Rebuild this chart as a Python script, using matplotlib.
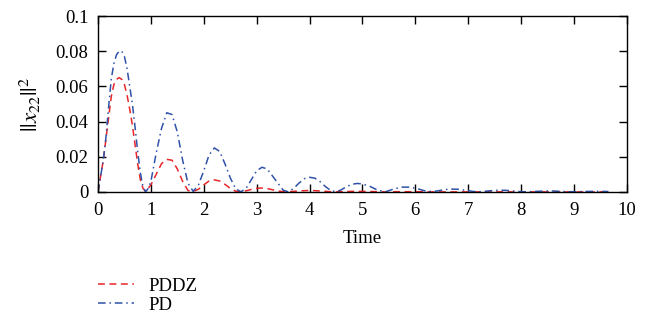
import numpy as np
import matplotlib
matplotlib.use("Agg")
from matplotlib import pyplot as plt

# sample times
time = [
    0.0, 0.05, 0.1, 0.15, 0.2, 0.25, 0.3, 0.35, 0.4, 0.45,
    0.5, 0.55, 0.6, 0.65, 0.7, 0.75, 0.8, 0.85, 0.9, 0.95, 1.0,
    1.1, 1.2, 1.3, 1.4, 1.5, 1.6, 1.7, 1.8, 1.9, 2.0,
    2.1, 2.2, 2.3, 2.4, 2.5, 2.6, 2.7, 2.8, 2.9, 3.0,
    3.1, 3.2, 3.3, 3.4, 3.5, 3.6, 3.7, 3.8, 3.9, 4.0,
    4.1, 4.2, 4.3, 4.4, 4.5, 4.6, 4.7, 4.8, 4.9, 5.0,
    5.15, 5.3, 5.45, 5.6, 5.75, 5.9, 6.05, 6.2, 6.35, 6.5,
    6.65, 6.8, 6.95, 7.1, 7.25, 7.4, 7.55, 7.7, 7.85, 8.0,
    8.15, 8.3, 8.45, 8.6, 8.75, 8.9, 9.05, 9.2, 9.35, 9.5, 9.65,
]

pddz = [
    0.0, 0.009, 0.018, 0.030, 0.042, 0.054, 0.061, 0.064, 0.065, 0.064,
    0.061, 0.055, 0.047, 0.038, 0.027, 0.016, 0.007, 0.002, 0.0003, 0.002, 0.004,
    0.010, 0.016, 0.0185, 0.018, 0.013, 0.006, 0.0008, 0.0003, 0.0015, 0.0040,
    0.0062, 0.0068, 0.0062, 0.0043, 0.0020, 0.0004, 0.0002, 0.0006, 0.0014, 0.0020,
    0.0022, 0.0019, 0.0012, 0.0005, 0.0001, 0.0001, 0.0003, 0.0005, 0.0007, 0.0008,
    0.0007, 0.0005, 0.0003, 0.0001, 0.0, 0.0001, 0.0002, 0.0003, 0.0003, 0.0003,
    0.0002, 0.0001, 0.0, 0.0001, 0.0001, 0.0001, 0.0001, 0.0, 0.0, 0.0,
    0.0, 0.0, 0.0, 0.0, 0.0, 0.0, 0.0, 0.0, 0.0, 0.0,
    0.0, 0.0, 0.0, 0.0, 0.0, 0.0, 0.0, 0.0, 0.0, 0.0, 0.0,
]

pd = [
    0.0, 0.009, 0.018, 0.031, 0.048, 0.064, 0.073, 0.078, 0.080, 0.080,
    0.077, 0.070, 0.060, 0.050, 0.037, 0.023, 0.011, 0.003, 0.0, 0.002, 0.006,
    0.022, 0.036, 0.045, 0.044, 0.034, 0.018, 0.005, 0.0003, 0.004, 0.012,
    0.021, 0.025, 0.023, 0.016, 0.008, 0.002, 0.0, 0.002, 0.007, 0.012,
    0.014, 0.013, 0.009, 0.005, 0.001, 0.0, 0.002, 0.005, 0.0075, 0.0083,
    0.0078, 0.0058, 0.003, 0.0008, 0.0, 0.0012, 0.003, 0.0043, 0.0048, 0.0045,
    0.0030, 0.0008, 0.0002, 0.0017, 0.0027, 0.0027, 0.0017, 0.0004, 0.0002, 0.0010,
    0.0016, 0.0015, 0.0009, 0.0002, 0.0001, 0.0006, 0.0009, 0.0009, 0.0005, 0.0001,
    0.0001, 0.0003, 0.0005, 0.0005, 0.0003, 0.0001, 0.0001, 0.0002, 0.0003, 0.0003, 0.0002,
]

xticks = [0, 1, 2, 3, 4, 5, 6, 7, 8, 9, 10]
yticks = [0, 0.02, 0.04, 0.06, 0.08, 0.1]
ytick_labels = ["0", "0.02", "0.04", "0.06", "0.08", "0.1"]

plt.rcParams["font.family"] = ["Liberation Serif", "DejaVu Serif"]
plt.rcParams["mathtext.fontset"] = "stix"

fig = plt.figure(figsize=(6.49, 3.28), dpi=100)
ax = fig.add_axes([0.151, 0.415, 0.815, 0.536])

l1, = ax.plot(time, pddz, color="#e8262a", lw=1.1, ls=(0, (4.5, 3)), label="PDDZ")
l2, = ax.plot(time, pd, color="#2f52a8", lw=1.1, ls=(0, (5, 2.5, 1, 2.5)), label="PD")

ax.set_xlim(0, 10)
ax.set_ylim(0, 0.1)
ax.set_xticks(xticks)
ax.set_xticklabels([str(v) for v in xticks])
ax.set_yticks(yticks)
ax.set_yticklabels(ytick_labels)
ax.tick_params(direction="in", length=5.5, width=1, top=True, right=True,
               labelsize=13.5)
ax.tick_params(axis="x", pad=7)
ax.tick_params(axis="y", pad=7)
for s in ax.spines.values():
    s.set_linewidth(1.0)

ax.set_xlabel("Time", fontsize=13.5, labelpad=8)
ax.set_ylabel(r"$||x_{22}||^2$", fontsize=16.5, labelpad=9)

fig.legend([l1, l2], ["PDDZ", "PD"], loc="upper left",
           bbox_to_anchor=(0.151, 0.153), frameon=False, fontsize=13.5,
           handlelength=1.9, handletextpad=0.8, labelspacing=0.1,
           borderpad=0, borderaxespad=0)

fig.savefig("out.png", dpi=100)
